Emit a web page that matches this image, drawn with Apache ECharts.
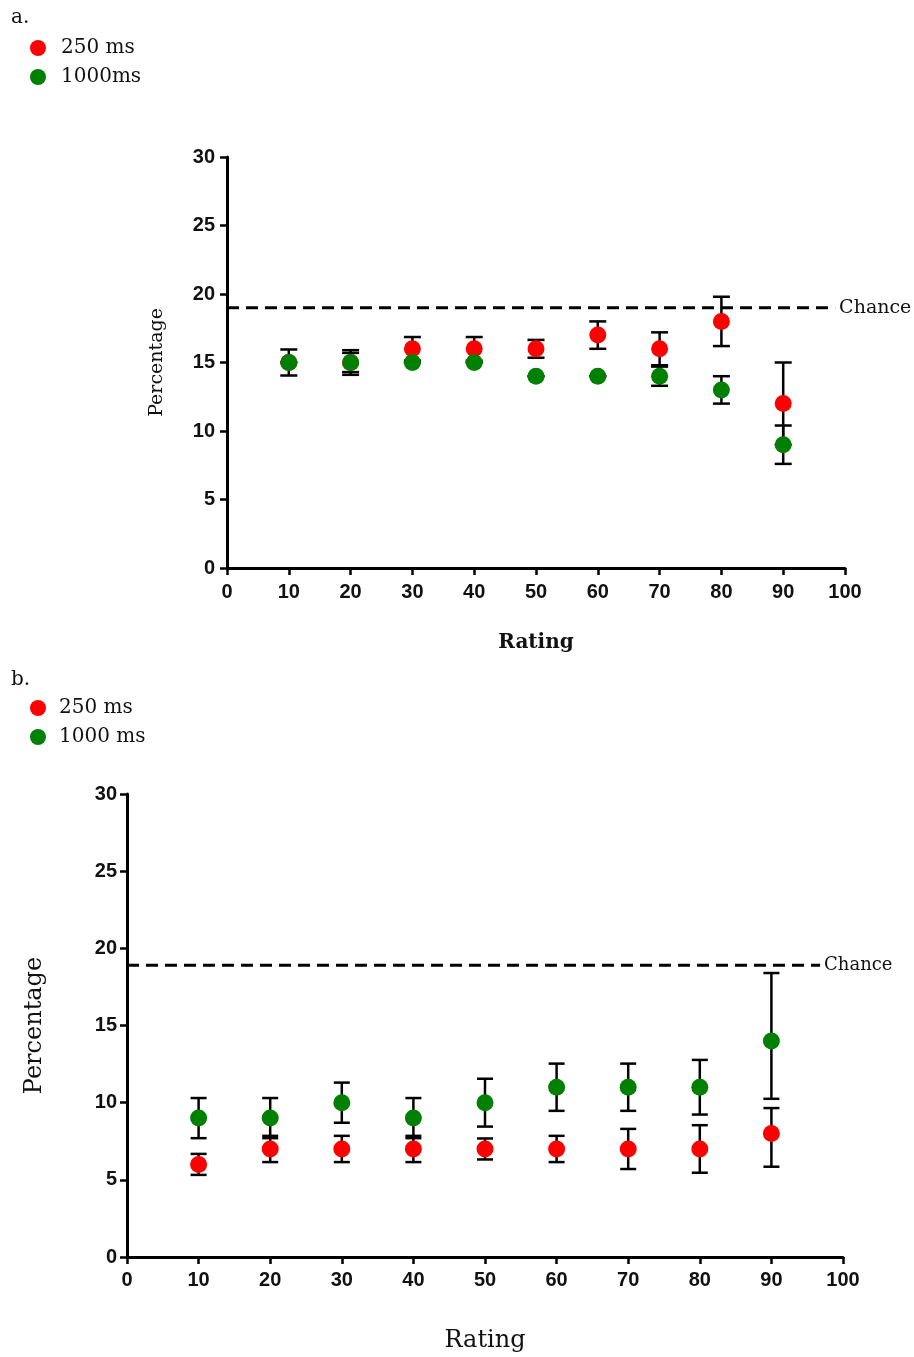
<!DOCTYPE html>
<html>
<head>
<meta charset="utf-8">
<script src="https://cdn.jsdelivr.net/npm/echarts@6/dist/echarts.min.js"></script>
<style>
html,body{margin:0;padding:0;background:#fff;}
#chart{width:914px;height:1357px;}
</style>
</head>
<body>
<div id="chart"></div>
<script>
// ---- Data ----
const ratings = [10, 20, 30, 40, 50, 60, 70, 80, 90];
const xTicks = [0, 10, 20, 30, 40, 50, 60, 70, 80, 90, 100];
const yTicks = [0, 5, 10, 15, 20, 25, 30];
const chanceA = 19;
const chanceB = 18.9;

// Panel a (mean, lower error, upper error)
const a250 = [15, 15, 16, 16, 16, 17, 16, 18, 12];
const a250Lo = [0, 0.9, 0.86, 0.86, 0.65, 1.0, 1.2, 1.8, 3.0];
const a250Hi = [0, 0.9, 0.86, 0.86, 0.65, 1.0, 1.2, 1.8, 3.0];
const a1000 = [15, 15, 15, 15, 14, 14, 14, 13, 9];
const a1000Lo = [0.95, 0.7, 0, 0, 0, 0, 0.7, 1.0, 1.4];
const a1000Hi = [0.95, 0.7, 0, 0, 0, 0, 0.7, 1.0, 1.4];

// Panel b
const b250 = [6, 7, 7, 7, 7, 7, 7, 7, 8];
const b250Lo = [0.68, 0.85, 0.85, 0.85, 0.68, 0.85, 1.3, 1.54, 2.15];
const b250Hi = [0.68, 0.85, 0.85, 0.85, 0.68, 0.85, 1.3, 1.54, 1.65];
const b1000 = [9, 9, 10, 9, 10, 11, 11, 11, 14];
const b1000Lo = [1.3, 1.3, 1.3, 1.3, 1.55, 1.53, 1.53, 1.77, 3.75];
const b1000Hi = [1.3, 1.3, 1.3, 1.3, 1.55, 1.53, 1.53, 1.77, 4.4];

// ---- Chart ----
const RED = '#ff0000', GREEN = '#008000';
const serif = '"DejaVu Serif", "Liberation Serif", serif';
const sans = '"Liberation Sans Narrow", "Liberation Sans", "DejaVu Sans Condensed", sans-serif';

function errData(vals, lo, hi) {
  return ratings.map((r, i) => [r, vals[i] - lo[i], vals[i] + hi[i]]);
}
function ptData(vals) {
  return ratings.map((r, i) => [r, vals[i]]);
}
function errRender(capW) {
  return function (params, api) {
    const x = api.value(0), lo = api.value(1), hi = api.value(2);
    const p1 = api.coord([x, hi]), p2 = api.coord([x, lo]);
    const st = { stroke: '#000', lineWidth: 2.5 };
    return {
      type: 'group',
      children: [
        { type: 'line', shape: { x1: p1[0], y1: p1[1], x2: p2[0], y2: p2[1] }, style: st },
        { type: 'line', shape: { x1: p1[0] - capW, y1: p1[1], x2: p1[0] + capW, y2: p1[1] }, style: st },
        { type: 'line', shape: { x1: p2[0] - capW, y1: p2[1], x2: p2[0] + capW, y2: p2[1] }, style: st }
      ]
    };
  };
}

function xAxis(gi, labelSize, margin, nameSize, nameBold, nameGap) {
  return {
    gridIndex: gi, type: 'value', min: 0, max: 100, interval: 10,
    axisLine: { lineStyle: { color: '#000', width: 3 } },
    axisTick: { show: true, length: 7, lineStyle: { color: '#000', width: 2.5 } },
    splitLine: { show: false },
    axisLabel: { color: '#111', fontFamily: sans, fontWeight: 'bold', fontSize: labelSize, margin: margin },
    name: 'Rating', nameLocation: 'middle', nameGap: nameGap,
    nameTextStyle: { color: '#111', fontFamily: serif, fontSize: nameSize, fontWeight: nameBold ? 'bold' : 'normal' }
  };
}
function yAxis(gi, labelSize, margin, nameSize, nameGap) {
  return {
    gridIndex: gi, type: 'value', min: 0, max: 30, interval: 5,
    axisLine: { lineStyle: { color: '#000', width: 3 } },
    axisTick: { show: true, length: 7, lineStyle: { color: '#000', width: 2.5 } },
    splitLine: { show: false },
    axisLabel: { color: '#111', fontFamily: sans, fontWeight: 'bold', fontSize: labelSize, margin: margin },
    name: 'Percentage', nameLocation: 'middle', nameGap: nameGap,
    nameTextStyle: { color: '#111', fontFamily: serif, fontSize: nameSize }
  };
}
function chanceSeries(gi, value, xEnd, fs) {
  return {
    type: 'line', xAxisIndex: gi, yAxisIndex: gi, silent: true,
    data: [[0, value], [xEnd, value]], symbol: 'none',
    lineStyle: { color: '#000', width: 3, type: [12, 7] },
    endLabel: { show: true, formatter: 'Chance', color: '#111', fontFamily: serif, fontSize: fs, distance: 4 },
    z: 1
  };
}
function dots(gi, name, vals, color, z) {
  return { type: 'scatter', name: name, xAxisIndex: gi, yAxisIndex: gi, data: ptData(vals),
    symbol: 'circle', symbolSize: 17, itemStyle: { color: color, opacity: 1 }, z: z };
}
function bars(gi, vals, lo, hi, capW) {
  return { type: 'custom', xAxisIndex: gi, yAxisIndex: gi, renderItem: errRender(capW),
    encode: { x: 0, y: [1, 2] }, data: errData(vals, lo, hi), z: 2, silent: true };
}

const chart = echarts.init(document.getElementById('chart'), null, { renderer: 'canvas' });
chart.setOption({
  animation: false,
  backgroundColor: '#fff',
  title: [
    { text: 'a.', left: 6, top: 3, textStyle: { fontFamily: serif, fontWeight: 'normal', fontSize: 20, color: '#111' } },
    { text: 'b.', left: 6, top: 665, textStyle: { fontFamily: serif, fontWeight: 'normal', fontSize: 20, color: '#111' } }
  ],
  legend: [
    { data: ['250 ms', '1000ms'], orient: 'vertical', left: 25, top: 33, itemWidth: 36, itemHeight: 16, itemGap: 9,
      icon: 'circle', textStyle: { fontFamily: serif, fontSize: 20, color: '#111' } },
    { data: ['250 ms', '1000 ms'], orient: 'vertical', left: 25, top: 693, itemWidth: 32, itemHeight: 16, itemGap: 9,
      icon: 'circle', textStyle: { fontFamily: serif, fontSize: 20, color: '#111' } }
  ],
  grid: [
    { left: 227, top: 157, width: 618, height: 411 },
    { left: 127, top: 794, width: 716, height: 463 }
  ],
  xAxis: [xAxis(0, 20, 14, 20, true, 65), xAxis(1, 20, 13, 24, false, 72)],
  yAxis: [yAxis(0, 20, 12, 19, 60), yAxis(1, 20, 10, 24, 80)],
  series: [
    chanceSeries(0, chanceA, 98.4, 19),
    bars(0, a250, a250Lo, a250Hi, 8.5),
    bars(0, a1000, a1000Lo, a1000Hi, 8.5),
    dots(0, '250 ms', a250, RED, 3),
    dots(0, '1000ms', a1000, GREEN, 4),

    chanceSeries(1, chanceB, 96.8, 18),
    bars(1, b250, b250Lo, b250Hi, 8),
    bars(1, b1000, b1000Lo, b1000Hi, 8),
    dots(1, '250 ms', b250, RED, 3),
    dots(1, '1000 ms', b1000, GREEN, 4)
  ]
});
</script>
</body>
</html>
